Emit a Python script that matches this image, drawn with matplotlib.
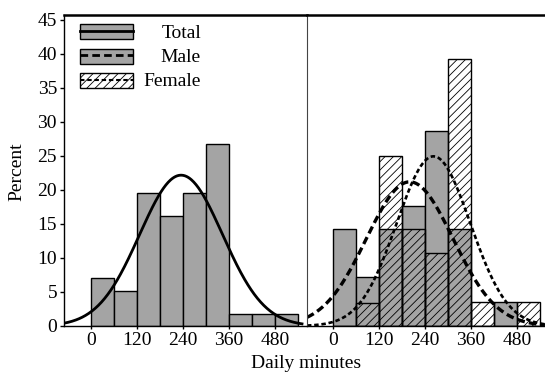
import numpy as np
import matplotlib
matplotlib.use('Agg')
import matplotlib.pyplot as plt
from matplotlib.patches import Patch
from matplotlib.lines import Line2D

plt.rcParams['font.family'] = ['Liberation Serif', 'DejaVu Serif']
plt.rcParams['hatch.linewidth'] = 0.6
plt.rcParams['lines.scale_dashes'] = False

# histogram bins (left edges, minutes) and percentages
bin_left = [0, 60, 120, 180, 240, 300, 360, 420, 480]
bin_width = 60
total_pct = [7.1, 5.2, 19.6, 16.1, 19.6, 26.8, 1.8, 1.8, 1.8]
male_pct = [14.2, 7.2, 14.2, 17.7, 28.6, 14.2, 0, 3.5, 0]
female_pct = [0, 3.4, 25.0, 14.2, 10.7, 39.2, 3.5, 0, 3.5]

# fitted normal curves: mean, sd (minutes)
total_fit = (235, 108)
male_fit = (200, 113)
female_fit = (262, 96)

xticks = [0, 120, 240, 360, 480]
yticks = list(range(0, 46, 5))
labels = ['Total', 'Male', 'Female']

gray = '#a4a4a4'
male_dash = (5.5, 3)
female_dash = (3.2, 2)
hatch = '////'


def normal_pct(x, fit):
    mu, sd = fit
    return 100 * bin_width / (sd * np.sqrt(2 * np.pi)) * np.exp(-0.5 * ((x - mu) / sd) ** 2)


W, H = 545, 374
fig = plt.figure(figsize=(W / 100, H / 100), dpi=100)
ax1 = fig.add_axes([64 / W, 48 / H, 243 / W, 311 / H])
ax2 = fig.add_axes([307 / W, 48 / H, 238 / W, 311 / H], sharey=ax1)

ax1.set_xlim(-70, 563)
ax2.set_xlim(-68, 553)
ax1.set_ylim(0, 45.7)

# left panel: total
ax1.bar(bin_left, total_pct, width=bin_width, align='edge', color=gray,
        edgecolor='black', linewidth=1)
xs = np.linspace(-70, 550, 300)
ax1.plot(xs, normal_pct(xs, total_fit), color='black', lw=2)

# right panel: male and female
ax2.bar(bin_left, male_pct, width=bin_width, align='edge', color=gray,
        edgecolor='black', linewidth=1)
ax2.bar(bin_left, female_pct, width=bin_width, align='edge', facecolor='none',
        edgecolor='black', linewidth=1, hatch=hatch)
xs2 = np.linspace(-68, 553, 300)
ax2.plot(xs2, normal_pct(xs2, male_fit), color='black', lw=2.4,
         linestyle=(0, male_dash))
ax2.plot(xs2, normal_pct(xs2, female_fit), color='black', lw=1.9,
         linestyle=(0, female_dash))

for ax in (ax1, ax2):
    ax.set_xticks(xticks)
    ax.tick_params(axis='x', direction='out', length=2.5, width=1,
                   labelsize=14, pad=2)
    ax.spines['top'].set_linewidth(1.8)
    ax.spines['bottom'].set_linewidth(1)
    ax.spines['right'].set_visible(False)

ax1.set_yticks(yticks)
ax1.tick_params(axis='y', direction='out', length=3, width=1,
                labelsize=14, pad=2)
ax1.spines['left'].set_linewidth(1)
ax2.tick_params(axis='y', left=False, labelleft=False)
ax2.spines['left'].set_linewidth(0.8)
ax2.spines['left'].set_color('#444444')

# legend: handles from matplotlib, labels placed right-aligned
handles = [
    (Patch(facecolor=gray, edgecolor='black'), Line2D([], [], color='black', lw=2)),
    (Patch(facecolor=gray, edgecolor='black'),
     Line2D([], [], color='black', lw=2, linestyle=(0, male_dash))),
    (Patch(facecolor='white', edgecolor='black', hatch=hatch),
     Line2D([], [], color='black', lw=1.5, linestyle=(0, female_dash))),
]
leg = ax1.legend(handles, [''] * 3, loc='upper left',
                 bbox_to_anchor=(16 / 243, 1 - 9 / 311), frameon=False,
                 fontsize=12.5, borderpad=0, borderaxespad=0,
                 handlelength=3.05, handleheight=0.98, handletextpad=0,
                 labelspacing=0.4)
row_y = [33, 57, 81]
for lab, y in zip(labels, row_y):
    ax1.text((201 - 64) / 243, (326 - y) / 311, lab, ha='right', va='center',
             fontsize=14, transform=ax1.transAxes)

fig.text(17 / W, 1 - 172 / H, 'Percent', rotation=90, ha='center',
         va='center', fontsize=14)
fig.text(306 / W, 1 - 364 / H, 'Daily minutes', ha='center', va='center',
         fontsize=14)

fig.savefig('out.png', dpi=100)
